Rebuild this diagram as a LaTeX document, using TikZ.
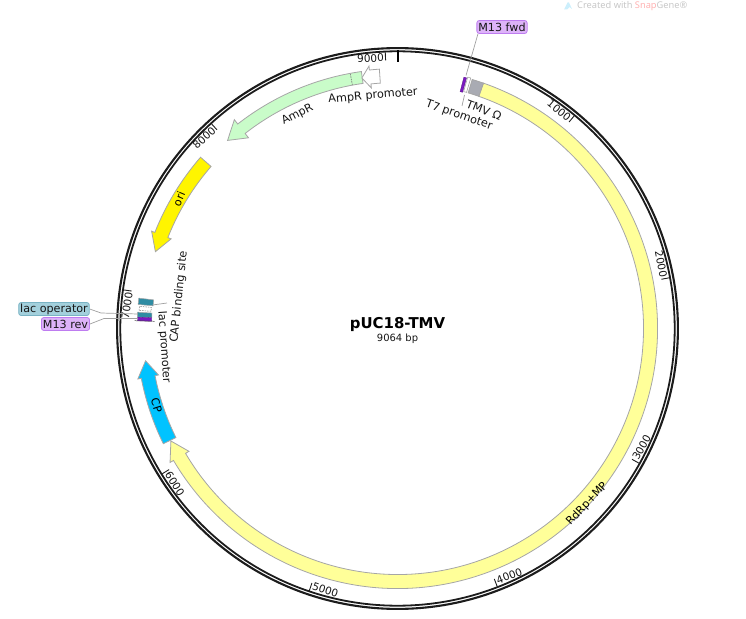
\documentclass[tikz,border=0pt]{standalone}
\usepackage{fontspec}
\setmainfont{DejaVu Sans}
\newfontfamily\wmfont{Noto Sans}
\definecolor{ringc}{HTML}{1C1C1C}
\definecolor{txtc}{HTML}{161616}
\definecolor{edgec}{HTML}{A6A6A6}
\definecolor{yelb}{HTML}{FFFF99}
\definecolor{cpb}{HTML}{00C3FF}
\definecolor{ampg}{HTML}{C9FCC9}
\definecolor{orig}{HTML}{FFF500}
\definecolor{omg}{HTML}{A9ABB3}
\definecolor{tealb}{HTML}{2F8CA3}
\definecolor{purp}{HTML}{7A18C0}
\definecolor{lblp}{HTML}{DDB3F8}
\definecolor{lblpe}{HTML}{BE7CF0}
\definecolor{lblt}{HTML}{A3D0DC}
\definecolor{lblte}{HTML}{79B3C4}
\definecolor{leadc}{HTML}{A0A0A0}
% style, theta tail, theta shoulder, theta tip, r mid, half body, half head
\newcommand\featarrow[7]{%
  \draw[#1] ({90-#2}:{(#5+#6)*1bp})
    arc[start angle={90-#2},end angle={90-#3},radius={(#5+#6)*1bp}]
    -- ({90-#3}:{(#5+#7)*1bp}) -- ({90-#4}:{#5*1bp}) -- ({90-#3}:{(#5-#7)*1bp})
    -- ({90-#3}:{(#5-#6)*1bp})
    arc[start angle={90-#3},end angle={90-#2},radius={(#5-#6)*1bp}] -- cycle;}
% style, theta a, theta b, r in, r out
\newcommand\featbox[5]{%
  \draw[#1] ({90-#2}:{#5*1bp})
    arc[start angle={90-#2},end angle={90-#3},radius={#5*1bp}]
    -- ({90-#3}:{#4*1bp})
    arc[start angle={90-#3},end angle={90-#2},radius={#4*1bp}] -- cycle;}
\tikzset{
  feat/.style={draw=edgec,line width=0.8bp,line join=miter},
  ticklab/.style={font=\fontsize{10.5}{12}\selectfont,text=txtc,inner sep=1.5bp},
  maplab/.style={font=\fontsize{11.3}{13}\selectfont,text=txtc,inner sep=0pt},
  tag/.style={rounded corners=2.5bp,font=\fontsize{11.2}{13}\selectfont,text=txtc,inner xsep=1.5bp,inner ysep=0pt,minimum height=13bp,line width=0.8bp},
  leader/.style={draw=leadc,line width=0.7bp},
}
\begin{document}
\begin{tikzpicture}[x=1bp,y=1bp]
\useasboundingbox (0,0) rectangle (746,-619);
\begin{scope}[shift={(397.5,-328.5)}]
  % ring
  \draw[ringc,line width=2.1bp] (0,0) circle[radius=280.4bp];
  \draw[ringc,line width=1.8bp] (0,0) circle[radius=277.2bp];
  % ticks and tick labels
  \foreach \v/\t/\r/\an in {1000/39.72/-39.72/east,2000/79.43/-79.43/east,3000/119.15/60.85/west,4000/158.87/21.13/west,5000/198.59/-18.59/west,6000/238.3/-58.3/west,7000/278.02/81.98/east,8000/317.74/42.26/east,9000/357.46/2.54/east}{
    \draw[ringc,line width=0.9bp] ({90-\t}:277bp) -- ({90-\t}:268.5bp);
    \node[ticklab,anchor=\an,rotate=\r] (tick\v) at ({90-\t}:271bp) {\v};
  }
  \draw[black,line width=2bp] (90:278bp) -- (90:266bp);
  % features
  \featarrow{feat,fill=yelb}{19.3}{239.5}{243.6}{253}{7}{11}
  \featarrow{feat,fill=cpb}{243.8}{259}{262.7}{254}{7}{10.5}
  \featarrow{feat,fill=ampg}{352}{322}{317.9}{253.5}{6}{11.5}
  \draw[gray,line width=0.7bp,dashed,dash pattern=on 1.5bp off 1bp] ({90-349.5}:247.5bp) -- ({90-349.5}:259.5bp);
  \featarrow{feat,fill=white}{356}{353.8}{351.9}{253}{7}{11}
  \featarrow{feat,fill=orig}{311}{291.6}{287.6}{254}{7}{10.5}
  \featbox{feat,fill=omg}{16.7}{19.3}{246}{260}
  \featbox{draw=edgec,line width=0.6bp,fill=white}{15.6}{16.3}{246}{261}
  \featbox{draw=purp!70!black,line width=0.3bp,fill=purp}{14.8}{15.4}{245}{260}
  % lac region
  \featbox{draw=edgec,line width=0.5bp,fill=tealb}{275.3}{276.7}{245.5}{260.5}
  \featbox{draw=gray,line width=0.5bp,dashed,dash pattern=on 1.5bp off 1bp,fill=white}{274}{274.9}{247}{259}
  \featbox{draw=edgec,line width=0.5bp,fill=tealb}{272.5}{273.6}{246}{260.5}
  \featbox{draw=purp!70!black,line width=0.3bp,fill=purp}{271.7}{272.5}{246}{260}
  \draw[black!70,line width=0.5bp] ({90-271.7}:243bp) -- ({90-271.7}:263bp);
\end{scope}
% centre title
\node[font=\bfseries\fontsize{15}{17}\selectfont,text=black,inner sep=0pt] (title) at (397.5,-325) {pUC18-TMV};
\node[font=\fontsize{10}{12}\selectfont,text=txtc,inner sep=0pt] (size) at (397.5,-339) {9064 bp};
% labels on the map
\node[maplab,rotate=5] (ampRp) at (373,-96) {AmpR promoter};
\node[maplab,rotate=27] (ampR) at (297.5,-114.5) {AmpR};
\node[maplab,rotate=-19] (t7) at (459,-115.5) {T7 promoter};
\node[maplab,rotate=-21] (tmv) at (484,-110) {TMV Ω};
\node[maplab,text=black,rotate=67,font=\fontsize{11}{12}\selectfont] (ori) at (179,-199) {ori};
\node[maplab,text=black,rotate=-72,font=\fontsize{11}{12}\selectfont] (cp) at (156.5,-405.5) {CP};
\node[maplab,text=black,rotate=47,font=\fontsize{11}{12}\selectfont] (rdrp) at (587,-504) {RdRp+MP};
\node[maplab,rotate=-86] (lacp) at (164,-347) {lac promoter};
\node[maplab,rotate=84] (capb) at (179,-297) {CAP binding site};
% tags
\node[tag,draw=lblpe,fill=lblp] (m13f) at (502,-27) {M13 fwd};
\node[tag,draw=lblte,fill=lblt] (laco) at (54,-309) {lac operator};
\node[tag,draw=lblpe,fill=lblp] (m13r) at (65.5,-324) {M13 rev};
% leaders
\coordinate (m13fEnd) at (466,-75.5);
\coordinate (t7A) at (464.5,-95);
\coordinate (t7B) at (462,-106);
\coordinate (lacoEnd) at (138,-314);
\coordinate (m13rEnd) at (138,-318.5);
\coordinate (capA) at (152.5,-305);
\coordinate (capB) at (167,-303);
\draw[leader] (m13f.south west) ++(1.5,0) -- (m13fEnd);
\draw[leader] (t7A) -- (t7B);
\draw[leader] (laco.east) -- (101,-313) -- (lacoEnd);
\draw[leader] (m13r.east) -- (104,-318.5) -- (m13rEnd);
\draw[leader] (capA) -- (capB);
% watermark
\fill[cyan!20] (564,-9.5) -- (567.5,-2.5) -- (569,-2.5) -- (572,-9) -- (569.5,-7) -- (567,-9.5) -- cycle;
\node[font=\wmfont\fontsize{9.3}{11}\selectfont,text=black!22,anchor=west,inner sep=0pt] (wm) at (577,-6.5) {Created with {\color{red!30}Snap}Gene®};
\end{tikzpicture}
\end{document}
